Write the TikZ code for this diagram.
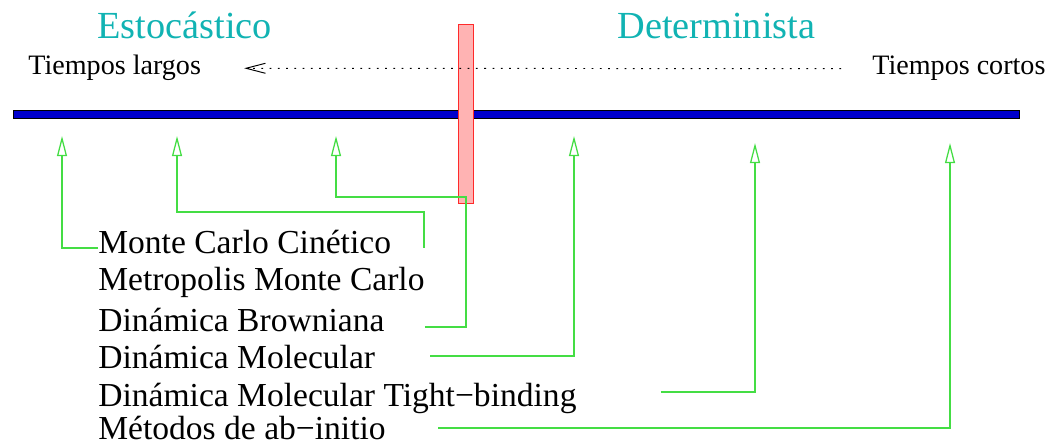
\documentclass[tikz,border=0pt]{standalone}
\usepackage{fontspec}
\setmainfont{Liberation Serif}
\usepackage{xcolor}
\definecolor{axisblue}{HTML}{0000CC}
\definecolor{cutred}{HTML}{FF2A2A}
\definecolor{cutfill}{HTML}{FFB3B3}
\definecolor{linkgreen}{HTML}{44DD44}
\definecolor{regime}{HTML}{11B3B3}
\usetikzlibrary{arrows.meta}

\begin{document}
\begin{tikzpicture}[x=0.02cm, y=-0.02cm,
    regimetext/.style={anchor=base west, inner sep=0pt, text=regime,
      font=\fontsize{21.8}{26}\selectfont},
    timetext/.style={anchor=base west, inner sep=0pt,
      font=\fontsize{16}{19}\selectfont},
    method/.style={anchor=base west, inner sep=0pt,
      font=\fontsize{19.1}{23}\selectfont},
    link/.style={draw=linkgreen, line width=0.72pt,
      -{Triangle[open, length=11.5pt, width=5.7pt]}}]

  \useasboundingbox (0,0) rectangle (1049,445);

  \node[draw=black, fill=axisblue, line width=0.4pt, inner sep=0pt,
        minimum width=572.6pt, minimum height=4.5pt] (axis) at (516,114) {};
  \node[draw=cutred, fill=cutfill, line width=0.5pt, inner sep=0pt,
        minimum width=8.5pt, minimum height=102pt] (cut) at (466,114) {};

  \node[regimetext] (stoch) at (97,39) {Estocástico};
  \node[regimetext] (determ) at (617,39) {Determinista};

  \node[timetext] (largos) at (28,75) {Tiempos largos};
  \node[timetext] (cortos) at (872,75) {Tiempos cortos};
  \draw[line width=0.55pt, dash pattern=on 1pt off 3.7pt,
        -{Straight Barb[length=11pt, width=5.7pt]}]
    ([xshift=-17.6pt]cortos.west) -- ([xshift=24.4pt]largos.east);

  \node[method] (kmc) at (98,254) {Monte Carlo Cinético};
  \node[method] (mmc) at (98,291) {Metropolis Monte Carlo};
  \node[method] (bd)  at (98,332) {Dinámica Browniana};
  \node[method] (md)  at (98,369) {Dinámica Molecular};
  \node[method] (tb)  at (98,407) {Dinámica Molecular Tight−binding};
  \node[method] (abi) at (98,440) {Métodos de ab−initio};

  % puntas de flecha bajo el eje
  \coordinate (a1) at (62,136);
  \coordinate (a2) at (177,136);
  \coordinate (a3) at (336,136);
  \coordinate (a4) at (574,136);
  \coordinate (a5) at (755,143);
  \coordinate (a6) at (950,143);

  \draw[link] ([yshift=3.4pt]kmc.base west) -| (a1);
  \draw[link] ([shift={(-1,-43)}]mmc.base east) -- ++(0,-36) -| (a2);
  \draw[link] ([shift={(40,-5)}]bd.base east) -| ([yshift=4pt]cut.south) -| (a3);
  \draw[link] ([shift={(55,-13)}]md.base east) -| (a4);
  \draw[link] ([shift={(84,-15)}]tb.base east) -| (a5);
  \draw[link] ([shift={(52,-12)}]abi.base east) -| (a6);

\end{tikzpicture}
\end{document}
